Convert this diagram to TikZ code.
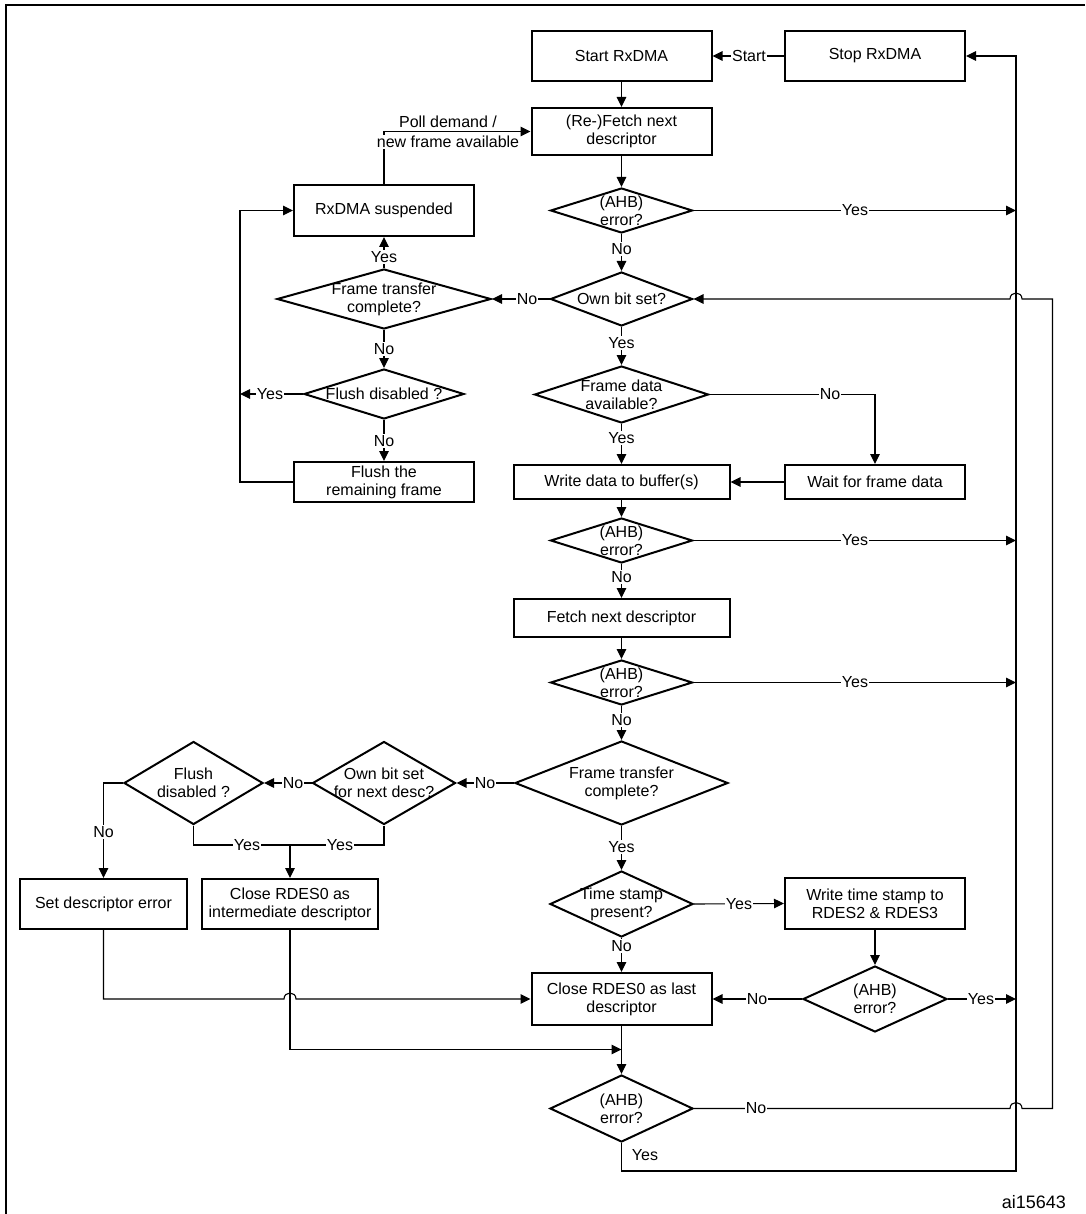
\documentclass[tikz,border=0pt]{standalone}
\usepackage{fontspec}
\setmainfont{Liberation Sans}
\usetikzlibrary{shapes.geometric,arrows.meta}
\newcommand{\dgfont}{\fontsize{16}{18}\selectfont}
\begin{document}
\begin{tikzpicture}[x=1pt,y=-1pt,
  box/.style={draw, line width=2pt, align=center, inner sep=0pt, font=\dgfont},
  dia/.style={draw, diamond, line width=2pt, inner sep=0pt},
  dtext/.style={align=center, inner sep=0pt, font=\dgfont},
  lbl/.style={fill=white, inner sep=1pt, font=\dgfont},
  ln/.style={line width=1.1pt},
  arr/.style={line width=1.1pt, -{Triangle[length=10pt,width=9.5pt]}}]
\useasboundingbox (0,0) rectangle (1085,1214);
\draw[line width=1.5pt] (6,1214) -- (6,5) -- (1085,5);

% boxes
\node[box, minimum width=180pt, minimum height=50pt] (start) at (621.5,56) {Start RxDMA};
\node[box, minimum width=180pt, minimum height=50pt] (stop) at (875,56) {Stop RxDMA};
\node[box, minimum width=180pt, minimum height=47pt] (refetch) at (621.5,131.5) {(Re-)Fetch next\\descriptor};
\node[box, minimum width=180pt, minimum height=51pt] (susp) at (384,210.5) {RxDMA suspended};
\node[box, minimum width=180pt, minimum height=40pt] (flushrem) at (384,482) {Flush the\\remaining frame};
\node[box, minimum width=216pt, minimum height=34pt] (write) at (621.5,482) {Write data to buffer(s)};
\node[box, minimum width=180pt, minimum height=34pt] (wait) at (875,482) {Wait for frame data};
\node[box, minimum width=216pt, minimum height=38pt] (fetch) at (621.5,618) {Fetch next descriptor};
\node[box, minimum width=167pt, minimum height=50pt] (seterr) at (103.5,904) {Set descriptor error};
\node[box, minimum width=176pt, minimum height=50pt] (closeint) at (290,904) {Close RDES0 as\\intermediate descriptor};
\node[box, minimum width=180pt, minimum height=51pt] (wts) at (875,903.5) {Write time stamp to\\RDES2 \& RDES3};
\node[box, minimum width=180pt, minimum height=52pt] (closelast) at (621.5,999) {Close RDES0 as last\\descriptor};

% diamonds
\node[dia, minimum width=142pt, minimum height=45pt] (ahb1) at (621.5,210.5) {};
\node[dtext] (ahb1t) at (ahb1) {(AHB)\\error?};
\node[dia, minimum width=142pt, minimum height=54pt] (ownbit) at (621.5,299) {};
\node[dtext] (ownbitt) at (ownbit) {Own bit set?};
\node[dia, minimum width=214pt, minimum height=60pt] (ftc1) at (384,299) {};
\node[dtext] (ftc1t) at (ftc1) {Frame transfer\\complete?};
\node[dia, minimum width=160pt, minimum height=50pt] (flushdis1) at (384,394) {};
\node[dtext] (flushdis1t) at (flushdis1) {Flush disabled ?};
\node[dia, minimum width=174pt, minimum height=57pt] (fda) at (621.5,394.5) {};
\node[dtext] (fdat) at (fda) {Frame data\\available?};
\node[dia, minimum width=142pt, minimum height=45pt] (ahb2) at (621.5,540.5) {};
\node[dtext] (ahb2t) at (ahb2) {(AHB)\\error?};
\node[dia, minimum width=142pt, minimum height=45pt] (ahb3) at (621.5,682.5) {};
\node[dtext] (ahb3t) at (ahb3) {(AHB)\\error?};
\node[dia, minimum width=213pt, minimum height=84pt] (ftc2) at (621.5,783) {};
\node[dtext] (ftc2t) at (ftc2) {Frame transfer\\complete?};
\node[dia, minimum width=143pt, minimum height=83pt] (ownnext) at (384,783) {};
\node[dtext] (ownnextt) at (ownnext) {Own bit set\\for next desc?};
\node[dia, minimum width=139pt, minimum height=83pt] (flushdis2) at (193.5,783) {};
\node[dtext] (flushdis2t) at (flushdis2) {Flush\\disabled ?};
\node[dia, minimum width=143pt, minimum height=66pt] (tsp) at (621.5,904) {};
\node[dtext] (tspt) at (tsp) {Time stamp\\present?};
\node[dia, minimum width=144pt, minimum height=66pt] (ahb4) at (875,999) {};
\node[dtext] (ahb4t) at (ahb4) {(AHB)\\error?};
\node[dia, minimum width=143pt, minimum height=67pt] (ahb5) at (621.5,1108.5) {};
\node[dtext] (ahb5t) at (ahb5) {(AHB)\\error?};

\coordinate (busx) at (1016,0);
\coordinate (lbus) at (240,0);
\coordinate (busB) at (1016,1171);
\coordinate (ymerge) at (290,845);
\coordinate (jn) at (621.5,1049.5);

% connectors
\draw[arr] (stop.west) -- (start.east);
\node[lbl] (lStart) at (749,56) {Start};
\draw[arr] (start.south) -- (refetch.north);
\draw[arr] (refetch.south) -- (ahb1.north);
\draw[arr] (ahb1.east) -- (ahb1.east -| busx);
\node[lbl] (l1) at (855,210.5) {Yes};
\draw[arr] (susp.north) |- (refetch.west);
\node[font=\dgfont, inner sep=0pt] (lPoll) at (448,122) {Poll demand /};
\node[lbl] (lNew) at (448,142) {new frame available};
\draw[arr] (ahb1.south) -- (ownbit.north);
\node[lbl] (l2) at (621.5,249) {No};
\draw[arr] (ownbit.west) -- (ftc1.east);
\node[lbl] (l3) at (527,299) {No};
\draw[arr] (ftc1.north) -- (susp.south);
\node[lbl] (l4) at (384,257) {Yes};
\draw[arr] (ftc1.south) -- (flushdis1.north);
\node[lbl] (l5) at (384,349) {No};
\draw[arr] (flushdis1.west) -- (flushdis1.west -| lbus);
\node[lbl] (l6) at (270,394) {Yes};
\draw[arr] (flushdis1.south) -- (flushrem.north);
\node[lbl] (l7) at (384,441) {No};
\draw[arr] (flushrem.west) -- (flushrem.west -| lbus) -- (susp.west -| lbus) -- (susp.west);
\draw[arr] (ownbit.south) -- (fda.north);
\node[lbl] (l8) at (621.5,343) {Yes};
\draw[arr] (fda.south) -- (write.north);
\node[lbl] (l9) at (621.5,438) {Yes};
\draw[arr] (fda.east) -| (wait.north);
\node[lbl] (l10) at (830,394.5) {No};
\draw[arr] (wait.west) -- (write.east);
\draw[arr] (write.south) -- (ahb2.north);
\draw[arr] (ahb2.east) -- (ahb2.east -| busx);
\node[lbl] (l11) at (855,540.5) {Yes};
\draw[arr] (ahb2.south) -- (fetch.north);
\node[lbl] (l12) at (621.5,577) {No};
\draw[arr] (fetch.south) -- (ahb3.north);
\draw[arr] (ahb3.east) -- (ahb3.east -| busx);
\node[lbl] (l13) at (855,682.5) {Yes};
\draw[arr] (ahb3.south) -- (ftc2.north);
\node[lbl] (l14) at (621.5,720) {No};
\draw[arr] (ftc2.west) -- (ownnext.east);
\node[lbl] (l15) at (485,783) {No};
\draw[arr] (ownnext.west) -- (flushdis2.east);
\node[lbl] (l16) at (293,783) {No};
\draw[arr] (flushdis2.west) -| (seterr.north);
\node[lbl] (l17) at (103.5,832) {No};
\draw[ln] (flushdis2.south) |- (ymerge);
\draw[ln] (ownnext.south) |- (ymerge);
\draw[arr] (ymerge) -- (closeint.north);
\node[lbl] (l18) at (247,845) {Yes};
\node[lbl] (l19) at (340,845) {Yes};
\draw[arr] (ftc2.south) -- (tsp.north);
\node[lbl] (l20) at (621.5,847) {Yes};
\draw[arr] (tsp.east) -- (wts.west);
\node[lbl] (l21) at (739,904) {Yes};
\draw[arr] (tsp.south) -- (closelast.north);
\node[lbl] (l22) at (621.5,946) {No};
\draw[arr] (wts.south) -- (ahb4.north);
\draw[arr] (ahb4.west) -- (closelast.east);
\node[lbl] (l23) at (757,999) {No};
\draw[arr] (ahb4.east) -- (ahb4.east -| busx);
\node[lbl] (l24) at (981,999) {Yes};
\draw[arr] (seterr.south) |- (284,999) .. controls (284,991) and (296,991) .. (296,999) -- (closelast.west);
\draw[arr] (closeint.south) |- (jn);
\draw[arr] (closelast.south) -- (ahb5.north);
\draw[arr] (ahb5.east) -- (1010,1108.5) .. controls (1010,1100.5) and (1022,1100.5) .. (1022,1108.5) -- (1052.5,1108.5) -- (1052.5,299) -- (1022,299) .. controls (1022,291) and (1010,291) .. (1010,299) -- (ownbit.east);
\node[lbl] (l25) at (756,1108.5) {No};
\draw[arr] (ahb5.south) |- (busB) |- (stop.east);
\node[font=\dgfont, inner sep=0pt] (l26) at (645,1155) {Yes};

\node[anchor=east, inner sep=0pt, font=\fontsize{18}{20}\selectfont] (id) at (1066,1202) {ai15643};
\end{tikzpicture}
\end{document}
